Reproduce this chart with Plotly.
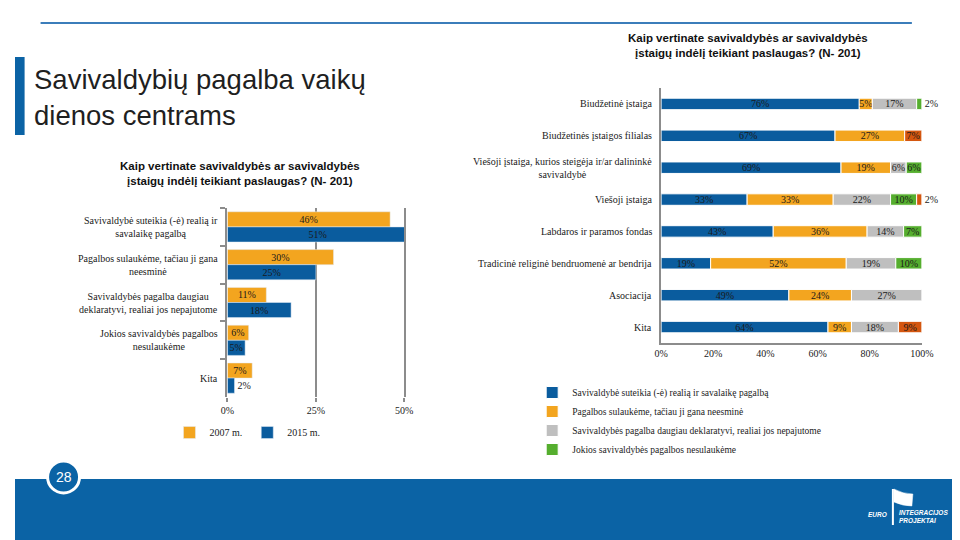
import numpy as np
import plotly.graph_objects as go

# ---------------- data ----------------
left_categories = [
    "Savivaldybė suteikia (-ė) realią ir<br>savalaikę pagalbą",
    "Pagalbos sulaukėme, tačiau ji gana<br>neesminė",
    "Savivaldybės pagalba daugiau<br>deklaratyvi, realiai jos nepajutome",
    "Jokios savivaldybės pagalbos<br>nesulaukėme",
    "Kita",
]
left_2007 = [46, 30, 11, 6, 7]
left_2015 = [51, 25, 18, 5, 2]
left_ticks = [0, 25, 50]

right_categories = [
    "Biudžetinė įstaiga",
    "Biudžetinės įstaigos filialas",
    "Viešoji įstaiga, kurios steigėja ir/ar dalininkė<br>savivaldybė",
    "Viešoji įstaiga",
    "Labdaros ir paramos fondas",
    "Tradicinė religinė bendruomenė ar bendrija",
    "Asociacija",
    "Kita",
]
right_real = [76, 66.7, 69, 33, 43, 19, 49, 64]
right_minor = [5, 26.7, 19, 33, 36, 52, 24, 9]
right_declar = [17, 0, 6, 22, 14, 19, 27, 18]
right_none = [2, 0, 6, 10, 7, 10, 0, 0]
right_other = [0, 6.6, 0, 2, 0, 0, 0, 9]
right_ticks = [0, 20, 40, 60, 80, 100]

right_series = [
    ("Savivaldybė suteikia (-ė) realią ir savalaikę pagalbą", right_real, "#0A5C9E", True),
    ("Pagalbos sulaukėme, tačiau ji gana neesminė", right_minor, "#F3A51F", True),
    ("Savivaldybės pagalba daugiau deklaratyvi, realiai jos nepajutome", right_declar, "#BFBFBF", True),
    ("Jokios savivaldybės pagalbos nesulaukėme", right_none, "#55AE2E", True),
    ("Kita", right_other, "#D4560F", False),
]

left_title = "Kaip vertinate savivaldybės ar savivaldybės<br>įstaigų indėlį teikiant paslaugas? (N- 201)"
right_title = left_title
slide_title = "Savivaldybių pagalba vaikų<br>dienos centrams"
page_number = "28"

# ---------------- helpers ----------------
W, H = 960, 540
SERIF = "Liberation Serif, Times New Roman, serif"
SANS = "Liberation Sans, Arial, sans-serif"
BLUE_DARK = "#0B63A5"
AXIS_GREY = "#8C8C8C"

# measured mapping between figure pixels and the photographed page
SX, OX, OY = 0.981, 14.4, 8.0


def px(x):
    return ((x - OX) / SX) / W


def py(y):
    return 1 - (y - OY) / H


fig = go.Figure()

# ---------------- left chart (grouped) ----------------
fig.add_trace(go.Bar(
    y=left_categories, x=left_2007, orientation="h", name="2007 m.",
    marker=dict(color="#F3A51F"),
    text=[f"{v}%" for v in left_2007], textposition="inside",
    insidetextanchor="middle", textangle=0, constraintext="none",
    textfont=dict(family=SERIF, size=10, color="#1a1a1a"),
    xaxis="x", yaxis="y", legend="legend", hoverinfo="skip",
))
fig.add_trace(go.Bar(
    y=left_categories, x=left_2015, orientation="h", name="2015 m.",
    marker=dict(color="#0A5C9E"),
    text=[f"{v}%" for v in left_2015],
    textposition=["outside" if v <= 3 else "inside" for v in left_2015],
    insidetextanchor="middle", textangle=0, constraintext="none",
    textfont=dict(family=SERIF, size=10, color="#1a1a1a"),
    xaxis="x", yaxis="y", legend="legend", hoverinfo="skip",
))

# ---------------- right chart (stacked via base) ----------------
cum = np.zeros(len(right_categories))
for name, vals, color, show in right_series:
    vals_arr = np.array(vals, dtype=float)
    fig.add_trace(go.Bar(
        y=right_categories,
        x=[v if v > 0 else None for v in vals_arr],
        base=cum.copy(),
        orientation="h", name=name,
        width=0.36, offset=-0.18,
        marker=dict(color=color, line=dict(color="white", width=1)),
        text=[f"{v:.0f}%" if v > 0 else "" for v in vals_arr],
        textposition=["outside" if 0 < v <= 2 else "inside" for v in vals_arr],
        insidetextanchor="middle", textangle=0, constraintext="none",
        cliponaxis=False,
        textfont=dict(family=SERIF, size=10, color="#1a1a1a"),
        xaxis="x2", yaxis="y2", legend="legend2", showlegend=show,
        hoverinfo="skip",
    ))
    cum = cum + vals_arr

annotations = []

# category labels (centered multi-line)
for c in left_categories:
    annotations.append(dict(
        x=px(220), xref="paper", xanchor="right", y=c, yref="y",
        text=c, showarrow=False, align="center",
        font=dict(family=SERIF, size=10, color="#1a1a1a"),
    ))
for c in right_categories:
    annotations.append(dict(
        x=px(654), xref="paper", xanchor="right", y=c, yref="y2",
        text=c, showarrow=False, align="center",
        font=dict(family=SERIF, size=10, color="#1a1a1a"),
    ))

# chart titles
annotations.append(dict(
    x=px(240), y=py(174), xref="paper", yref="paper", text=f"<b>{left_title}</b>",
    showarrow=False, align="center", xanchor="center", yanchor="middle",
    font=dict(family=SANS, size=11.5, color="#111111"),
))
annotations.append(dict(
    x=px(748), y=py(45), xref="paper", yref="paper", text=f"<b>{right_title}</b>",
    showarrow=False, align="center", xanchor="center", yanchor="middle",
    font=dict(family=SANS, size=11.5, color="#111111"),
))

# slide title
annotations.append(dict(
    x=px(31), y=py(98), xref="paper", yref="paper", text=slide_title,
    showarrow=False, xanchor="left", yanchor="middle", align="left",
    font=dict(family=SANS, size=27.5, color="#1f1f1f"),
))

# page number
annotations.append(dict(
    x=px(63), y=py(477), xref="paper", yref="paper", text=page_number,
    showarrow=False, xanchor="center", yanchor="middle",
    font=dict(family=SANS, size=14, color="white"),
))

# logo text
annotations.append(dict(
    x=px(889), y=py(514), xref="paper", yref="paper", text="<b><i>EURO</i></b>",
    showarrow=False, xanchor="right", yanchor="middle",
    font=dict(family=SANS, size=6.5, color="white"),
))
annotations.append(dict(
    x=px(897), y=py(516), xref="paper", yref="paper",
    text="<b><i>INTEGRACIJOS<br>PROJEKTAI</i></b>",
    showarrow=False, xanchor="left", yanchor="middle", align="left",
    font=dict(family=SANS, size=6.5, color="white"),
))

shapes = [
    # top rule
    dict(type="line", xref="paper", yref="paper", x0=px(40), x1=px(912),
         y0=py(23), y1=py(23), line=dict(color="#3B7DBA", width=2)),
    # left accent bar
    dict(type="rect", xref="paper", yref="paper", x0=0, x1=px(24),
         y0=py(135), y1=py(57), fillcolor=BLUE_DARK, line=dict(width=0)),
    # bottom band
    dict(type="rect", xref="paper", yref="paper", x0=0, x1=1,
         y0=0, y1=py(479), fillcolor=BLUE_DARK, line=dict(width=0), layer="below"),
    # page circle
    dict(type="circle", xref="paper", yref="paper", x0=px(63 - 16), x1=px(63 + 16),
         y0=py(477 + 16), y1=py(477 - 16), fillcolor=BLUE_DARK,
         line=dict(color="white", width=3)),
    # logo pole
    dict(type="line", xref="paper", yref="paper", x0=px(893), x1=px(893),
         y0=py(489), y1=py(525), line=dict(color="white", width=2)),
    # logo flag
    dict(type="path", xref="paper", yref="paper",
         path=(f"M {px(894)},{py(489)} Q {px(903)},{py(494)} {px(913)},{py(494)} "
               f"L {px(912)},{py(506)} Q {px(903)},{py(506)} {px(894)},{py(502)} Z"),
         fillcolor="white", line=dict(color="white", width=0.5)),
]

fig.update_layout(
    width=W, height=H, autosize=False,
    margin=dict(l=0, r=0, t=0, b=0),
    paper_bgcolor="white", plot_bgcolor="rgba(0,0,0,0)",
    barmode="group", bargap=0.2, bargroupgap=0,
    uniformtext=dict(minsize=10, mode="show"),
    showlegend=True,
    xaxis=dict(
        domain=[px(227), px(404)], anchor="y", range=[0, 50],
        tickvals=left_ticks, ticktext=[f"{t}%" for t in left_ticks],
        showgrid=True, gridcolor=AXIS_GREY, gridwidth=2, zeroline=False,
        showline=False, ticks="outside", ticklen=4, tickcolor=AXIS_GREY,
        tickwidth=2,
        tickfont=dict(family=SERIF, size=10, color="#1a1a1a"),
    ),
    yaxis=dict(
        domain=[py(397), py(208)], anchor="x", type="category",
        autorange="reversed", showticklabels=False, showgrid=False,
        showline=True, mirror=True, linecolor=AXIS_GREY, linewidth=2,
        ticks="outside", tickson="boundaries", ticklen=5, tickcolor=AXIS_GREY,
        tickwidth=1.5,
    ),
    xaxis2=dict(
        domain=[px(661), px(922)], anchor="y2", range=[0, 100],
        tickvals=right_ticks, ticktext=[f"{t}%" for t in right_ticks],
        showgrid=False, zeroline=False, showline=True,
        linecolor=AXIS_GREY, linewidth=2, ticks="",
        tickfont=dict(family=SERIF, size=10, color="#1a1a1a"),
    ),
    yaxis2=dict(
        domain=[py(343), py(88)], anchor="x2", type="category",
        autorange="reversed", showticklabels=False, showgrid=False,
        showline=True, linecolor=AXIS_GREY, linewidth=2, ticks="",
    ),
    legend=dict(
        orientation="h", x=px(169), y=py(418), xanchor="left", yanchor="top",
        font=dict(family=SERIF, size=10, color="#1a1a1a"),
        bgcolor="rgba(0,0,0,0)", itemwidth=30,
    ),
    legend2=dict(
        orientation="v", x=px(532), y=py(378), xanchor="left", yanchor="top",
        font=dict(family=SERIF, size=9.5, color="#1a1a1a"),
        bgcolor="rgba(0,0,0,0)", itemwidth=30, tracegroupgap=0,
    ),
    annotations=annotations,
    shapes=shapes,
)

fig.write_html("out.html")
